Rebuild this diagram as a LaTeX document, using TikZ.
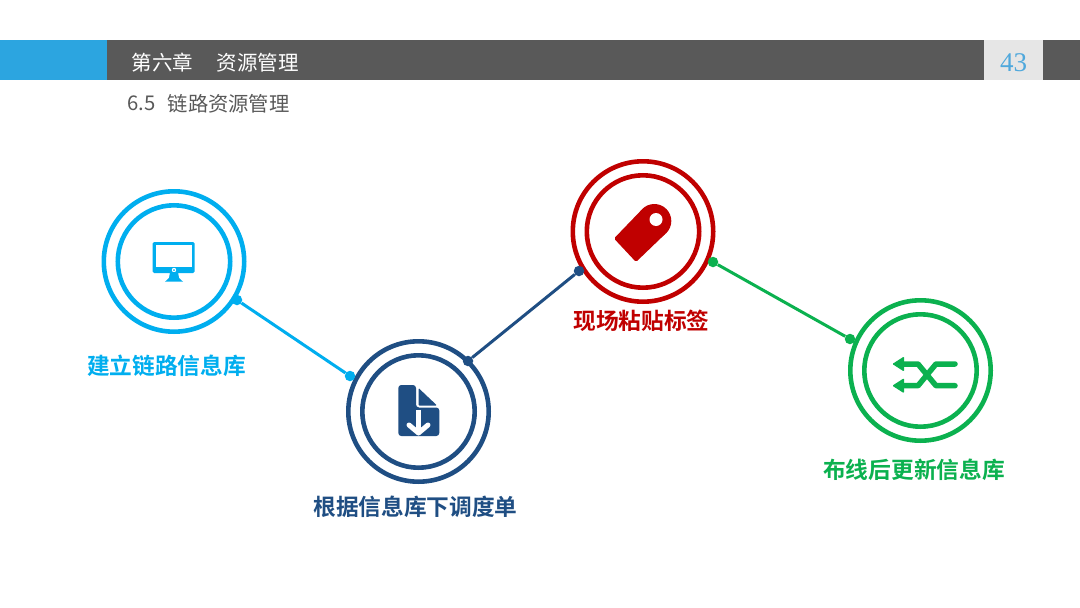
\documentclass[tikz,border=0pt]{standalone}
\usepackage{fontspec}
\newfontfamily\cjk{Noto Sans CJK SC}
\newfontfamily\cjkb{Noto Sans CJK SC Bold}
\setmainfont{Liberation Serif}
\definecolor{cblue}{HTML}{00AEEF}
\definecolor{cnavy}{HTML}{1F4E83}
\definecolor{cred}{HTML}{C00000}
\definecolor{cgreen}{HTML}{0BB14F}
\definecolor{cbar}{HTML}{595959}
\definecolor{cside}{HTML}{2CA5E0}
\definecolor{cpage}{HTML}{E6E6E6}
\definecolor{cnum}{HTML}{4FA8DC}
\definecolor{csub}{HTML}{595959}
\tikzset{
 outerring/.style={circle,draw=#1,line width=4.6pt,minimum size=140.4pt,inner sep=0pt},
 innerring/.style={circle,draw=#1,line width=4.6pt,minimum size=112.4pt,inner sep=0pt},
 joint/.style={circle,fill=#1,minimum size=10.5pt,inner sep=0pt},
 link/.style={draw=#1,line width=3pt},
 steplabel/.style={text=#1,font=\cjkb\fontsize{22.7}{26}\selectfont,inner sep=0pt},
 headtext/.style={text=white,font=\cjk\fontsize{20.5}{24}\selectfont,inner sep=0pt,anchor=west},
 subtext/.style={text=csub,font=\cjk\fontsize{20.3}{24}\selectfont,inner sep=0pt,anchor=west},
}
\begin{document}
\begin{tikzpicture}[x=1pt,y=-1pt]
\useasboundingbox (0,0) rectangle (1080,608);
\fill[white] (0,0) rectangle (1080,608);
% header
\fill[cbar] (0,40) rectangle (1080,80);
\fill[cside] (0,40) rectangle (107,80);
\fill[cpage] (984,40) rectangle (1043,80);
\node[headtext] (ch) at (131.5,62.5) {第六章};
\node[headtext] (res) at (216.5,62.5) {资源管理};
\node[text=cnum,font=\fontsize{27}{30}\selectfont,inner sep=0pt] (num) at (1013.5,63) {43};
\node[subtext] (secn) at (127,103.5) {6.5};
\node[subtext] (sect) at (167.5,103.5) {链路资源管理};
% rings
\node[outerring=cblue] (o1) at (174,261.5) {};
\node[innerring=cblue] (i1) at (174,261.5) {};
\node[outerring=cnavy] (o2) at (418.5,411.5) {};
\node[innerring=cnavy] (i2) at (418.5,411.5) {};
\node[outerring=cred] (o3) at (643,231.5) {};
\node[innerring=cred] (i3) at (643,231.5) {};
\node[outerring=cgreen] (o4) at (920.5,370.5) {};
\node[innerring=cgreen] (i4) at (920.5,370.5) {};
% joints and links
\node[joint=cblue] (a1) at (237,300) {};
\node[joint=cblue] (a2) at (350,376) {};
\node[joint=cnavy] (b1) at (468,361) {};
\node[joint=cnavy] (b2) at (579,271) {};
\node[joint=cgreen] (c1) at (713,262) {};
\node[joint=cgreen] (c2) at (850,339) {};
\draw[link=cblue] (a1) -- (a2);
\draw[link=cnavy] (b1) -- (b2);
\draw[link=cgreen] (c1) -- (c2);
% monitor icon
\fill[cblue,rounded corners=1.5pt] (152.7,242) rectangle (194.7,273);
\fill[white] (156,245.3) rectangle (191.7,267);
\fill[white] (174,270) circle (2.2);
\fill[cblue] (174,270) circle (1);
\fill[cblue] (170,272) -- (178,272) -- (179,278) -- (183,281.7) -- (165,281.7) -- (169,278) -- cycle;
% document icon
\fill[cnavy,rounded corners=3pt] (398.3,385) -- (416,385) -- (416,407.5) -- (439.3,407.5) -- (439.3,436) -- (398.3,436) -- cycle;
\fill[cnavy,rounded corners=1pt] (418.5,388) -- (437,405.5) -- (418.5,405.5) -- cycle;
\draw[white,line width=5pt] (418.5,410) -- (418.5,430);
\draw[white,line width=5pt,line cap=round,line join=round] (409,425) -- (418.5,433) -- (428,425);
% tag icon
\fill[cred,rounded corners=1.5pt] (614,238.5) -- (636,262) -- (666.5,232.7) -- (642.1,209.3) -- cycle;
\fill[cred] (654.3,221) circle (17);
\fill[white] (656,219.5) circle (6.5);
% shuffle icon
\draw[cgreen,line width=5.5pt,line cap=round,line join=round] (955,364) -- (936,364) -- (918,385.7) -- (900,385.7);
\draw[cgreen,line width=5.5pt,line cap=round,line join=round] (955,385.7) -- (936,385.7) -- (918,364) -- (900,364);
\fill[cgreen,rounded corners=1pt] (892.3,364) -- (904,356.5) -- (904,371.5) -- cycle;
\fill[cgreen,rounded corners=1pt] (892.3,385.7) -- (904,378.2) -- (904,393.2) -- cycle;
% labels
\node[steplabel=cblue] (t1) at (166.5,366) {建立链路信息库};
\node[steplabel=cnavy] (t2) at (415.5,507) {根据信息库下调度单};
\node[steplabel=cred] (t3) at (641.5,321) {现场粘贴标签};
\node[steplabel=cgreen] (t4) at (914,470) {布线后更新信息库};
\end{tikzpicture}
\end{document}
